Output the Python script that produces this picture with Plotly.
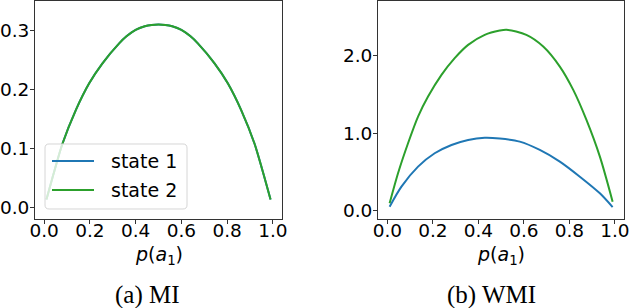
import plotly.graph_objects as go

# MI panel (both states coincide)
mi_p = [0.01, 0.045, 0.08, 0.138, 0.197, 0.255, 0.328, 0.36, 0.40, 0.44, 0.47, 0.50,
        0.53, 0.56, 0.60, 0.64, 0.672, 0.745, 0.803, 0.862, 0.92, 0.955, 0.99]
mi_state1 = [0.013, 0.062, 0.108, 0.165, 0.211, 0.245, 0.279, 0.291, 0.302, 0.308, 0.3103, 0.311,
             0.3103, 0.308, 0.302, 0.291, 0.279, 0.245, 0.211, 0.165, 0.108, 0.062, 0.013]
mi_state2 = list(mi_state1)

# WMI panel
wmi_p1 = [0.01, 0.062, 0.135, 0.208, 0.282, 0.355, 0.428, 0.494, 0.582, 0.670, 0.758, 0.846, 0.934, 0.99]
wmi_state1 = [0.055, 0.313, 0.570, 0.742, 0.849, 0.914, 0.942, 0.932, 0.892, 0.785, 0.635, 0.441, 0.227, 0.050]
wmi_p2 = [0.01, 0.047, 0.091, 0.135, 0.179, 0.238, 0.296, 0.355, 0.428, 0.494, 0.524,
          0.611, 0.685, 0.758, 0.817, 0.875, 0.934, 0.99]
wmi_state2 = [0.099, 0.485, 0.871, 1.214, 1.471, 1.750, 1.965, 2.136, 2.265, 2.320, 2.330,
              2.265, 2.115, 1.857, 1.557, 1.171, 0.699, 0.120]

series_names = ["state 1", "state 2"]
colors = ["#1f77b4", "#2ca02c"]
x_ticks = [0.0, 0.2, 0.4, 0.6, 0.8, 1.0]
captions = ["(a) MI", "(b) WMI"]

W, H = 630, 308
fig = go.Figure()

for name, col, ys in zip(series_names, colors, [mi_state1, mi_state2]):
    fig.add_trace(go.Scatter(x=mi_p, y=ys, mode="lines", name=name,
                             line=dict(color=col, width=2, shape="spline", smoothing=0.8),
                             xaxis="x", yaxis="y", showlegend=False, hoverinfo="skip"))
for name, col, xs, ys in zip(series_names, colors, [wmi_p1, wmi_p2], [wmi_state1, wmi_state2]):
    fig.add_trace(go.Scatter(x=xs, y=ys, mode="lines", name=name,
                             line=dict(color=col, width=2, shape="spline", smoothing=0.8),
                             xaxis="x2", yaxis="y2", showlegend=False, hoverinfo="skip"))

FS = 19
tickfont = dict(family="DejaVu Sans", size=18.5, color="black")
axis_common = dict(showgrid=False, zeroline=False, showline=True, mirror=True, linecolor="#333333",
                   linewidth=1, ticks="outside", ticklen=4, tickwidth=1, tickcolor="#333333",
                   tickfont=tickfont, tickformat=".1f", automargin=False, ticklabeloverflow="allow")
ydom = [1 - 219 / H, 1 - 1 / H]

fig.update_layout(
    width=W, height=H, margin=dict(l=0, r=0, t=0, b=0, autoexpand=False),
    plot_bgcolor="white", paper_bgcolor="white",
    xaxis=dict(domain=[35 / W, 282 / W], range=[-0.04, 1.04], tickvals=x_ticks, anchor="y",
               ticklabelstandoff=-9, **axis_common),
    yaxis=dict(domain=ydom, range=[-0.02, 0.351], dtick=0.1, tick0=0, anchor="x",
               ticklabelstandoff=-3, **axis_common),
    xaxis2=dict(domain=[378 / W, 624 / W], range=[-0.041, 1.04], tickvals=x_ticks, anchor="y2",
                ticklabelstandoff=-9, **axis_common),
    yaxis2=dict(domain=ydom, range=[-0.103, 2.70], dtick=1, tick0=0, anchor="x2",
                ticklabelstandoff=-3, **axis_common),
    showlegend=False,
    hovermode=False,
)


def px(x):
    return x / W


def py(y):
    return 1 - y / H


# legend box with rounded corners (semi-transparent, drawn above the curves)
x0, x1, y0, y1, r = 45, 187, 144, 209, 4


def P(x, y):
    return f"{px(x):.5f},{py(y):.5f}"


path = (f"M{P(x0 + r, y0)} L{P(x1 - r, y0)} Q{P(x1, y0)} {P(x1, y0 + r)} "
        f"L{P(x1, y1 - r)} Q{P(x1, y1)} {P(x1 - r, y1)} L{P(x0 + r, y1)} Q{P(x0, y1)} {P(x0, y1 - r)} "
        f"L{P(x0, y0 + r)} Q{P(x0, y0)} {P(x0 + r, y0)} Z")
fig.add_shape(type="path", xref="paper", yref="paper", path=path,
              fillcolor="rgba(255,255,255,0.8)", line=dict(color="#d6d6d6", width=1), layer="above")
for i, (name, col) in enumerate(zip(series_names, colors)):
    yc = 161 + 29 * i
    fig.add_shape(type="line", xref="paper", yref="paper", x0=px(52), x1=px(94), y0=py(yc), y1=py(yc),
                  line=dict(color=col, width=2), layer="above")
    fig.add_annotation(x=px(109), y=py(yc), xref="paper", yref="paper", text=name, showarrow=False,
                       font=dict(family="DejaVu Sans", size=FS, color="black"), xanchor="left", yanchor="middle")

xlabel = "<i>p</i>(<i>a</i><sub>1</sub>)"
for cx in [158.5, 501]:
    fig.add_annotation(x=px(cx), y=py(255), xref="paper", yref="paper", text=xlabel, showarrow=False,
                       font=dict(family="DejaVu Sans", size=FS, color="black"), xanchor="center", yanchor="middle")
for cx, cap in zip([147, 491], captions):
    fig.add_annotation(x=px(cx), y=py(295), xref="paper", yref="paper", text=cap, showarrow=False,
                       font=dict(family="Liberation Serif", size=25, color="black"), xanchor="center", yanchor="middle")

fig.write_html("out.html", config={"displayModeBar": False},
               post_script="document.body.style.margin='0px';document.body.style.overflow='hidden';")
